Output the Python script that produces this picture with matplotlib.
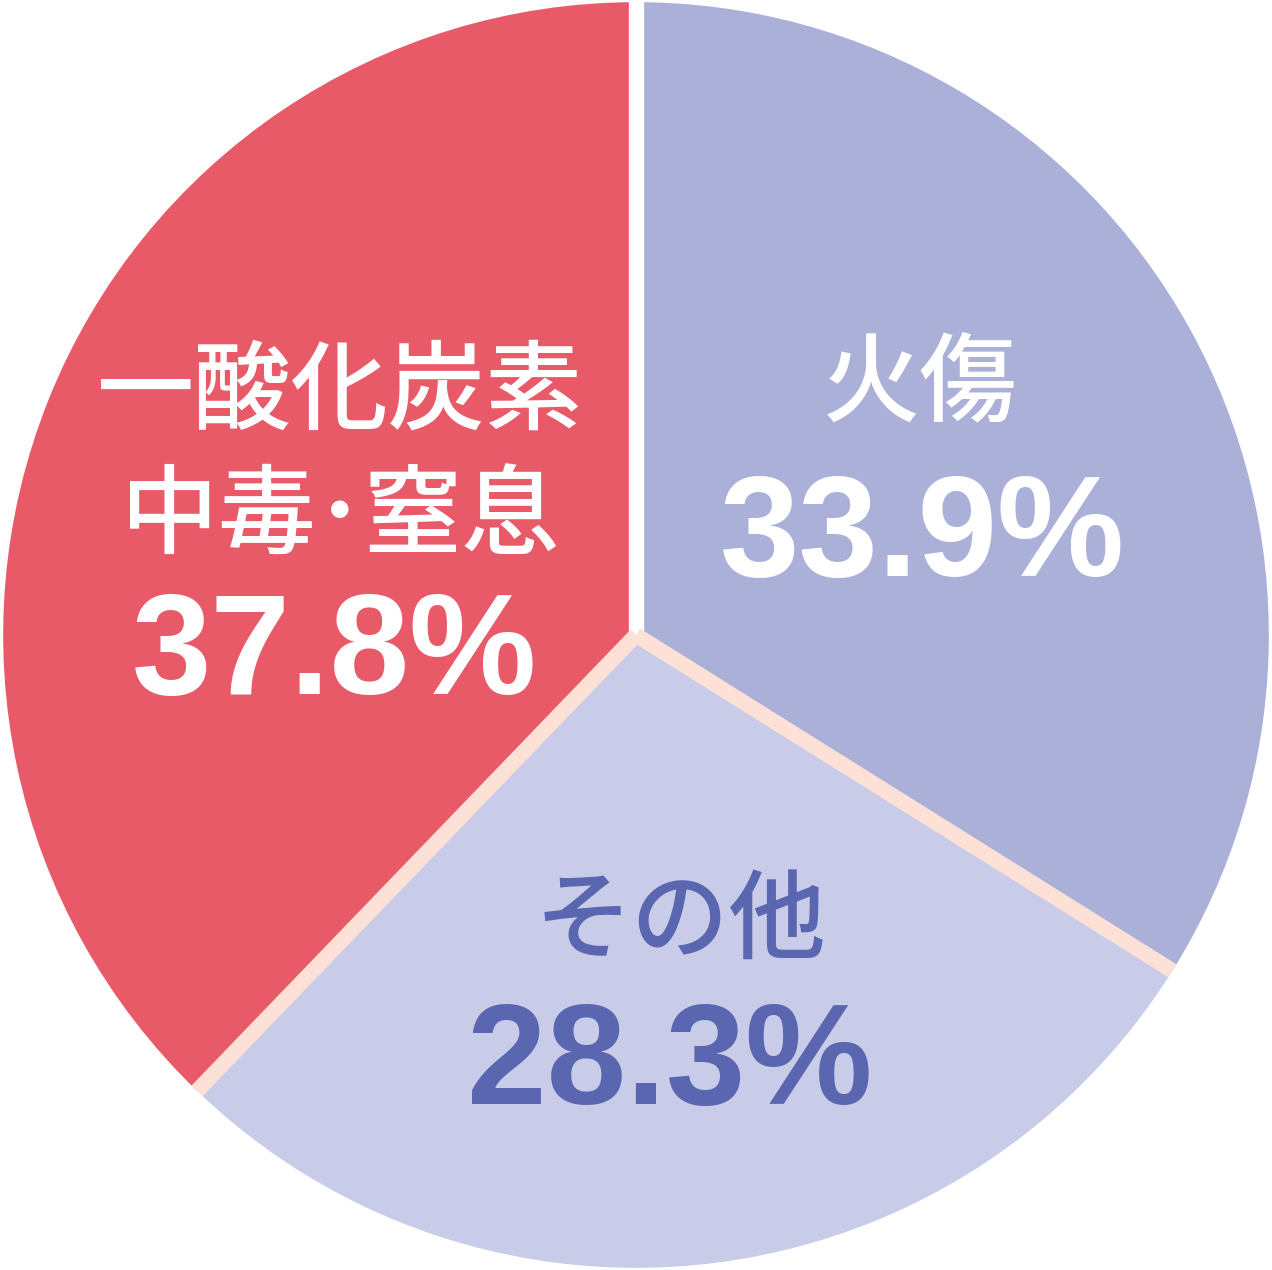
import numpy as np
import matplotlib.pyplot as plt

# Daten
labels = ["火傷", "その他", "一酸化炭素\n中毒･窒息"]
shares = [33.9, 28.3, 37.8]
colors = ["#abb0d8", "#c9cce8", "#e95a69"]
text_colors = ["white", "#5a67b0", "white"]

# Textpositionen (Achsenkoordinaten, Radius 1)
label_pos = [(0.449, 0.393), (0.070, -0.456), (-0.468, 0.282)]
value_pos = [(0.452, 0.152), (0.053, -0.682), (-0.476, -0.035)]

fig = plt.figure(figsize=(12.72, 12.70), dpi=100)
ax = fig.add_axes([0, 0, 1, 1])

ax.pie(shares, colors=colors, startangle=90, counterclock=False,
       radius=1.0, wedgeprops=dict(linewidth=0))

# Trennlinien an den Segmentgrenzen
bounds = 90 - np.cumsum([0] + shares) / 100 * 360
ax.plot([0, 0], [0, 1.01], color="white", lw=11, solid_capstyle="butt", zorder=3)
for a in bounds[1:-1]:
    r = np.deg2rad(a)
    ax.plot([0, np.cos(r)], [0, np.sin(r)], color="#fde0d6", lw=11,
            solid_capstyle="butt", zorder=4)

cjk = ["Noto Sans CJK JP", "DejaVu Sans"]
num = ["Liberation Sans", "Noto Sans CJK JP"]
for i in range(len(labels)):
    ax.text(*label_pos[i], labels[i], ha="center", va="center", color=text_colors[i],
            fontsize=70, family=cjk, fontweight="medium", linespacing=1.33, zorder=5)
    ax.text(*value_pos[i], f"{shares[i]}%", ha="center", va="center",
            color=text_colors[i], fontsize=103, family=num, fontweight="bold", zorder=5)

ax.set_xlim(-1.005, 1.005)
ax.set_ylim(-1.003, 1.003)
ax.axis("off")
fig.savefig("out.png", dpi=100, facecolor="white")
